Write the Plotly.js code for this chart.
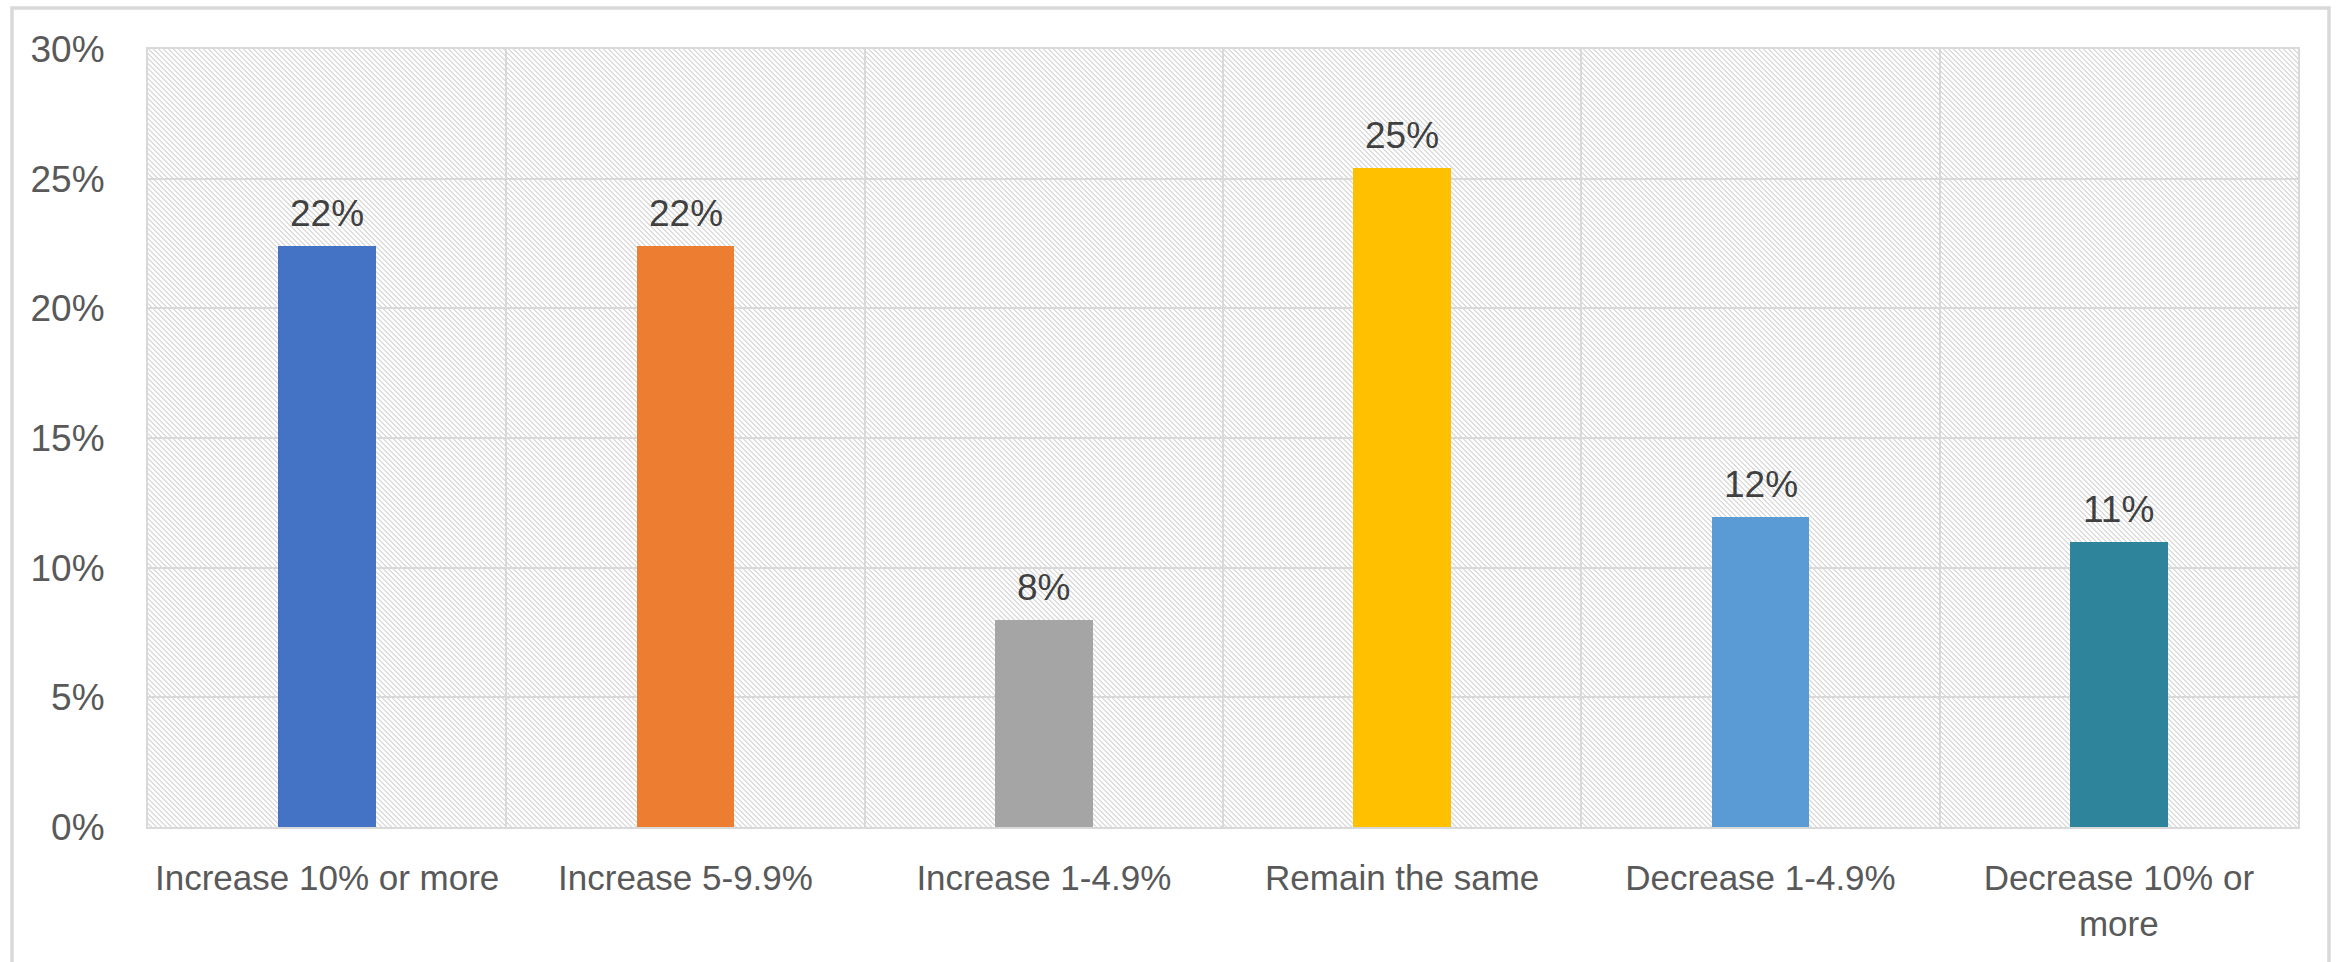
<!DOCTYPE html>
<html>
<head>
<meta charset="utf-8">
<script src="https://cdn.plot.ly/plotly-3.0.1.min.js"></script>
<style>
  html, body { margin: 0; padding: 0; background: #ffffff; }
  #chart { width: 2341px; height: 962px; }
</style>
</head>
<body>
<div id="chart"></div>
<script>
// ---- data ----
const categories = ['Increase 10% or more', 'Increase 5-9.9%', 'Increase 1-4.9%', 'Remain the same', 'Decrease 1-4.9%', 'Decrease 10% or more'];
const tickLabels = ['Increase 10% or more', 'Increase 5-9.9%', 'Increase 1-4.9%', 'Remain the same', 'Decrease 1-4.9%', 'Decrease 10% or<br>more'];
const values = [0.224, 0.224, 0.080, 0.254, 0.1195, 0.110];
const barColors = ['#4472C4', '#ED7D31', '#A5A5A5', '#FFC000', '#5B9BD5', '#2E849B'];

// ---- layout constants ----
const W = 2341, H = 962;
const M = { l: 148, r: 43, t: 49, b: 135 };
const PW = W - M.l - M.r, PH = H - M.t - M.b;
const FONT = '"Liberation Sans", Arial, sans-serif';
const GRID = '#D9D9D9';

// hatch background (downward diagonal) for the plot area
const HC = '#dedede';
const P = 5;
let tile = "<rect width='" + P + "' height='" + P + "' fill='#ffffff'/>";
for (let i = 0; i < P; i++) {
  tile += "<rect x='" + i + "' y='" + i + "' width='1' height='1' fill='" + HC + "'/>";
  tile += "<rect x='" + ((i + 1) % P) + "' y='" + i + "' width='1' height='1' fill='" + HC + "'/>";
}
const hatchSvg =
  "<svg xmlns='http://www.w3.org/2000/svg' width='" + PW + "' height='" + PH + "' shape-rendering='crispEdges'>" +
  "<defs><pattern id='p' width='" + P + "' height='" + P + "' patternUnits='userSpaceOnUse'>" + tile +
  "</pattern></defs><rect width='100%' height='100%' fill='url(#p)'/></svg>";
const hatchUri = 'data:image/svg+xml;charset=utf-8,' + encodeURIComponent(hatchSvg);

const px2x = p => (p - M.l) / PW;
const px2y = p => (H - M.b - p) / PH;

const trace = {
  type: 'bar',
  x: categories,
  y: values,
  width: 0.273,
  marker: { color: barColors, line: { width: 0 } },
  hoverinfo: 'x+y'
};

const annotations = categories.map((c, i) => ({
  x: c,
  y: values[i],
  xref: 'x',
  yref: 'y',
  text: Math.round(values[i] * 100) + '%',
  showarrow: false,
  yanchor: 'bottom',
  yshift: 10,
  font: { family: FONT, size: 37, color: '#404040' }
}));

const layout = {
  width: W,
  height: H,
  margin: M,
  paper_bgcolor: '#ffffff',
  plot_bgcolor: 'rgba(0,0,0,0)',
  showlegend: false,
  bargap: 0,
  font: { family: FONT, color: '#595959' },
  xaxis: {
    type: 'category',
    tickmode: 'array',
    tickvals: categories,
    ticktext: tickLabels,
    tickson: 'boundaries',
    ticks: '',
    showgrid: true,
    gridcolor: GRID,
    gridwidth: 2,
    showline: true,
    mirror: true,
    linecolor: GRID,
    linewidth: 2,
    ticklabelstandoff: 19,
    tickfont: { family: FONT, size: 35, color: '#595959' },
    range: [-0.5, categories.length - 0.5],
    fixedrange: true
  },
  yaxis: {
    range: [0, 0.30],
    dtick: 0.05,
    tick0: 0,
    tickformat: '.0%',
    ticks: '',
    showgrid: true,
    gridcolor: GRID,
    gridwidth: 2,
    zeroline: false,
    showline: true,
    mirror: true,
    linecolor: GRID,
    linewidth: 2,
    ticklabelstandoff: 34,
    tickfont: { family: FONT, size: 37, color: '#595959' },
    fixedrange: true
  },
  images: [{
    source: hatchUri,
    xref: 'paper', yref: 'paper',
    x: 0, y: 1, sizex: 1, sizey: 1,
    xanchor: 'left', yanchor: 'top',
    sizing: 'stretch',
    layer: 'below'
  }],
  shapes: [{
    type: 'rect',
    xref: 'paper', yref: 'paper',
    x0: px2x(12), x1: px2x(2329),
    y0: px2y(970), y1: px2y(8),
    line: { color: '#D9D9D9', width: 3.5 },
    fillcolor: 'rgba(0,0,0,0)',
    layer: 'below'
  }],
  annotations: annotations
};

Plotly.newPlot('chart', [trace], layout, { displayModeBar: false, staticPlot: true });
</script>
</body>
</html>
